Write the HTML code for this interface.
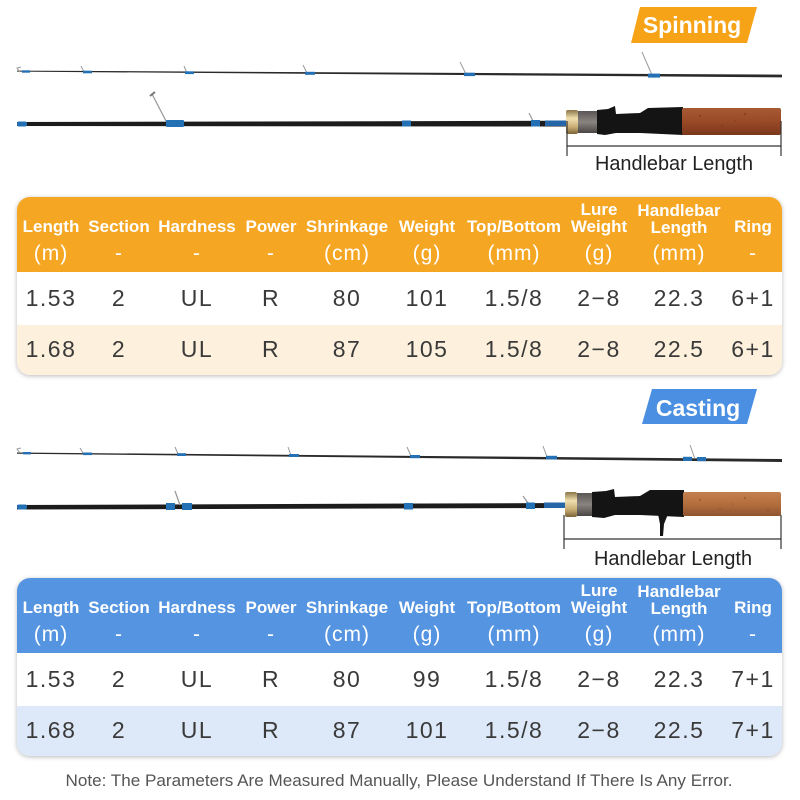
<!DOCTYPE html>
<html><head><meta charset="utf-8">
<style>
*{margin:0;padding:0;box-sizing:border-box}
html,body{width:800px;height:800px;background:#fff;overflow:hidden}
body{position:relative;font-family:"Liberation Sans",Arial,sans-serif}
svg.bg{position:absolute;left:0;top:0}
.tbl{position:absolute;left:17px;width:765px;height:178px;border-radius:13px;overflow:hidden;box-shadow:0 1px 5px rgba(0,0,0,.28)}
.hd{position:absolute;left:0;top:0;width:100%;height:75px}
.r1{position:absolute;left:0;top:75px;width:100%;height:53px;background:#fff}
.r2{position:absolute;left:0;top:128px;width:100%;height:50px}
.o .hd{background:#F5A623}.o .r2{background:#FDF0DC}
.b .hd{background:#5594E0}.b .r2{background:#DDE9F8}
.c{position:absolute;width:120px;margin-left:-60px;text-align:center;white-space:nowrap}
.h{color:#fff;font-weight:bold;font-size:17px;height:20px;line-height:20px}
.u{color:#fff;font-size:21px;height:26px;line-height:26px;letter-spacing:1px;top:44px}
.d{color:#3a3a3a;font-size:23px;height:30px;line-height:30px;letter-spacing:1.5px}
.y1{top:86px}.y2{top:137px}
</style></head><body>
<svg class="bg" width="800" height="800" viewBox="0 0 800 800">
<defs>
<linearGradient id="gold" x1="0" y1="0" x2="0" y2="1"><stop offset="0" stop-color="#8b7548"/><stop offset=".35" stop-color="#f0e0b0"/><stop offset=".7" stop-color="#c9ad74"/><stop offset="1" stop-color="#7a6438"/></linearGradient>
<linearGradient id="eng" x1="0" y1="0" x2="0" y2="1"><stop offset="0" stop-color="#5a5655"/><stop offset=".5" stop-color="#8a8480"/><stop offset="1" stop-color="#4a4645"/></linearGradient>
<linearGradient id="cork1" x1="0" y1="0" x2="0" y2="1"><stop offset="0" stop-color="#a65a33"/><stop offset=".5" stop-color="#9a4a26"/><stop offset="1" stop-color="#7a381b"/></linearGradient>
<linearGradient id="cork2" x1="0" y1="0" x2="0" y2="1"><stop offset="0" stop-color="#c3804e"/><stop offset=".5" stop-color="#b46e3e"/><stop offset="1" stop-color="#8f5530"/></linearGradient>
</defs>
<!-- Spinning badge -->
<polygon points="640,7 757,7 747,43 631,43" fill="#F6A317"/>
<text x="692" y="33" text-anchor="middle" font-family="Liberation Sans, Arial, sans-serif" font-weight="bold" font-size="23" fill="#fff">Spinning</text>

<!-- Spinning top rod -->
<polygon points="17,70.6 782,74.6 782,77.4 17,71.6" fill="#2a2a2a"/>
<g stroke="#9a9a9a" stroke-width="1" fill="none">
<path d="M20,72 L17,68 L21,67"/>
<path d="M84,72 L81,66"/>
<path d="M187,73 L184,66"/>
<path d="M307,73 L303,65"/>
<path d="M466,74 L460,62"/>
<path d="M652,75 L642,52"/>
</g>
<g fill="#2470b5">
<rect x="22" y="70.3" width="8" height="2.4"/>
<rect x="83" y="70.7" width="9" height="2.6"/>
<rect x="185" y="71.3" width="9" height="2.8"/>
<rect x="305" y="71.8" width="10" height="3"/>
<rect x="464" y="72.7" width="11" height="3.4"/>
<rect x="648" y="73.6" width="12" height="4"/>
</g>

<!-- Spinning second rod -->
<polygon points="17,122 568,120.8 568,126.5 17,126" fill="#1c1c1c"/>
<rect x="17" y="121.5" width="10" height="5" rx="2" fill="#2470b5"/>
<path d="M166,121 L152,94" stroke="#9a9a9a" stroke-width="1.3" fill="none"/>
<path d="M150,96 L155,92" stroke="#777" stroke-width="2"/>
<rect x="166" y="120" width="18" height="7" rx="1" fill="#2470b5"/>
<rect x="402" y="120.5" width="9" height="6" fill="#2470b5"/>
<path d="M533,121 L529,113" stroke="#9a9a9a" stroke-width="1.2"/>
<rect x="531" y="120" width="9" height="6.5" fill="#2470b5"/>
<rect x="545" y="120.5" width="21" height="5.5" fill="#2466a8"/>

<!-- Spinning handle -->
<rect x="566" y="110" width="12" height="24" rx="2" fill="url(#gold)"/>
<rect x="578" y="111" width="20" height="22" fill="url(#eng)"/>
<path d="M597,110 L608,109 L615,106 L616,114 L640,113 L648,108 L683,107 L683,135 L640,133 L616,133 L605,135 L597,134 Z" fill="#141414"/>
<rect x="682" y="108" width="99" height="27" rx="2" fill="url(#cork1)"/>
<g fill="#6e2f14" opacity=".45">
<circle cx="700" cy="116" r="1.2"/><circle cx="722" cy="126" r="1"/><circle cx="745" cy="114" r="1.3"/><circle cx="768" cy="128" r="1"/><circle cx="735" cy="121" r="0.9"/>
</g>
<!-- Spinning bracket -->
<g stroke="#333" stroke-width="1.2">
<line x1="567" y1="121" x2="567" y2="156"/>
<line x1="781" y1="121" x2="781" y2="156"/>
<line x1="567" y1="146" x2="781" y2="146"/>
</g>
<text x="674" y="170" text-anchor="middle" font-family="Liberation Sans, Arial, sans-serif" font-size="20" fill="#222" textLength="158" lengthAdjust="spacingAndGlyphs">Handlebar Length</text>

<!-- Casting badge -->
<polygon points="652,389 757,389 747,424 642,424" fill="#4A8FE2"/>
<text x="698" y="416" text-anchor="middle" font-family="Liberation Sans, Arial, sans-serif" font-weight="bold" font-size="23" fill="#fff">Casting</text>

<!-- Casting top rod -->
<polygon points="17,452.5 782,459 782,462 17,453.7" fill="#2a2a2a"/>
<g stroke="#9a9a9a" stroke-width="1" fill="none">
<path d="M20,453 L17,449 L21,448"/>
<path d="M83,453 L80,448"/>
<path d="M178,454 L175,447"/>
<path d="M291,455 L288,447"/>
<path d="M411,456 L407,447"/>
<path d="M547,457 L543,446"/>
<path d="M695,459 L690,445"/>
</g>
<g fill="#2470b5">
<rect x="23" y="452" width="8" height="2.4"/>
<rect x="83" y="452.5" width="9" height="2.6"/>
<rect x="177" y="453.2" width="9" height="2.8"/>
<rect x="289" y="454" width="10" height="3"/>
<rect x="410" y="455" width="10" height="3.2"/>
<rect x="546" y="455.8" width="11" height="3.6"/>
<rect x="683" y="456.8" width="9" height="4.2"/>
<rect x="697" y="457" width="9" height="4.2"/>
</g>

<!-- Casting second rod -->
<polygon points="17,505 565,503 565,508 17,509.5" fill="#1c1c1c"/>
<rect x="17" y="504.5" width="10" height="5" rx="2" fill="#2470b5"/>
<path d="M180,505 L175,491" stroke="#9a9a9a" stroke-width="1.3" fill="none"/>
<rect x="166" y="503" width="9" height="7" fill="#2470b5"/>
<rect x="182" y="503" width="10" height="7" fill="#2470b5"/>
<rect x="404" y="503" width="9" height="6.5" fill="#2470b5"/>
<path d="M528,503 L523,496" stroke="#9a9a9a" stroke-width="1.2"/>
<rect x="526" y="502.5" width="9" height="6.5" fill="#2470b5"/>
<rect x="544" y="502.5" width="21" height="5.5" fill="#2466a8"/>

<!-- Casting handle -->
<rect x="565" y="492" width="12" height="25" rx="2" fill="url(#gold)"/>
<rect x="577" y="493" width="16" height="23" fill="url(#eng)"/>
<path d="M592,492 L606,491 L614,489 L615,497 L640,496 L650,490 L684,490 L684,517 L640,515 L615,515 L604,518 L592,517 Z" fill="#141414"/>
<path d="M658,514 L668,514 L664,524 L663,536 L660,536 L660,524 Z" fill="#141414"/>
<rect x="683" y="492" width="98" height="24" rx="2" fill="url(#cork2)"/>
<g fill="#7a4220" opacity=".4">
<circle cx="700" cy="500" r="1.2"/><circle cx="720" cy="509" r="1"/><circle cx="745" cy="498" r="1.3"/><circle cx="768" cy="510" r="1"/><circle cx="733" cy="504" r="0.9"/>
</g>
<!-- Casting bracket -->
<g stroke="#333" stroke-width="1.2">
<line x1="564" y1="515" x2="564" y2="549"/>
<line x1="781" y1="515" x2="781" y2="549"/>
<line x1="564" y1="539" x2="781" y2="539"/>
</g>
<text x="673" y="565" text-anchor="middle" font-family="Liberation Sans, Arial, sans-serif" font-size="20" fill="#222" textLength="158" lengthAdjust="spacingAndGlyphs">Handlebar Length</text>

<!-- Note -->
<text x="399" y="786" text-anchor="middle" font-family="Liberation Sans, Arial, sans-serif" font-size="17" fill="#555" textLength="667" lengthAdjust="spacingAndGlyphs">Note: The Parameters Are Measured Manually, Please Understand If There Is Any Error.</text>
</svg>

<!-- Spinning table -->
<div class="tbl o" style="top:197px">
<div class="hd"></div><div class="r1"></div><div class="r2"></div>
<div class="c h" style="left:34px;top:20px">Length</div>
<div class="c h" style="left:102px;top:20px">Section</div>
<div class="c h" style="left:180px;top:20px">Hardness</div>
<div class="c h" style="left:254px;top:20px">Power</div>
<div class="c h" style="left:330px;top:20px">Shrinkage</div>
<div class="c h" style="left:410px;top:20px">Weight</div>
<div class="c h" style="left:497px;top:20px">Top/Bottom</div>
<div class="c h" style="left:582px;top:3px">Lure</div>
<div class="c h" style="left:582px;top:20px">Weight</div>
<div class="c h" style="left:662px;top:4px">Handlebar</div>
<div class="c h" style="left:662px;top:21px">Length</div>
<div class="c h" style="left:736px;top:20px">Ring</div>
<div class="c u" style="left:34px">(m)</div>
<div class="c u" style="left:102px">-</div>
<div class="c u" style="left:180px">-</div>
<div class="c u" style="left:254px">-</div>
<div class="c u" style="left:330px">(cm)</div>
<div class="c u" style="left:410px">(g)</div>
<div class="c u" style="left:497px">(mm)</div>
<div class="c u" style="left:582px">(g)</div>
<div class="c u" style="left:662px">(mm)</div>
<div class="c u" style="left:736px">-</div>
<div class="c d y1" style="left:34px">1.53</div>
<div class="c d y1" style="left:102px">2</div>
<div class="c d y1" style="left:180px">UL</div>
<div class="c d y1" style="left:254px">R</div>
<div class="c d y1" style="left:330px">80</div>
<div class="c d y1" style="left:410px">101</div>
<div class="c d y1" style="left:497px">1.5/8</div>
<div class="c d y1" style="left:582px">2−8</div>
<div class="c d y1" style="left:662px">22.3</div>
<div class="c d y1" style="left:736px">6+1</div>
<div class="c d y2" style="left:34px">1.68</div>
<div class="c d y2" style="left:102px">2</div>
<div class="c d y2" style="left:180px">UL</div>
<div class="c d y2" style="left:254px">R</div>
<div class="c d y2" style="left:330px">87</div>
<div class="c d y2" style="left:410px">105</div>
<div class="c d y2" style="left:497px">1.5/8</div>
<div class="c d y2" style="left:582px">2−8</div>
<div class="c d y2" style="left:662px">22.5</div>
<div class="c d y2" style="left:736px">6+1</div>
</div>

<!-- Casting table -->
<div class="tbl b" style="top:578px">
<div class="hd"></div><div class="r1"></div><div class="r2"></div>
<div class="c h" style="left:34px;top:20px">Length</div>
<div class="c h" style="left:102px;top:20px">Section</div>
<div class="c h" style="left:180px;top:20px">Hardness</div>
<div class="c h" style="left:254px;top:20px">Power</div>
<div class="c h" style="left:330px;top:20px">Shrinkage</div>
<div class="c h" style="left:410px;top:20px">Weight</div>
<div class="c h" style="left:497px;top:20px">Top/Bottom</div>
<div class="c h" style="left:582px;top:3px">Lure</div>
<div class="c h" style="left:582px;top:20px">Weight</div>
<div class="c h" style="left:662px;top:4px">Handlebar</div>
<div class="c h" style="left:662px;top:21px">Length</div>
<div class="c h" style="left:736px;top:20px">Ring</div>
<div class="c u" style="left:34px">(m)</div>
<div class="c u" style="left:102px">-</div>
<div class="c u" style="left:180px">-</div>
<div class="c u" style="left:254px">-</div>
<div class="c u" style="left:330px">(cm)</div>
<div class="c u" style="left:410px">(g)</div>
<div class="c u" style="left:497px">(mm)</div>
<div class="c u" style="left:582px">(g)</div>
<div class="c u" style="left:662px">(mm)</div>
<div class="c u" style="left:736px">-</div>
<div class="c d y1" style="left:34px">1.53</div>
<div class="c d y1" style="left:102px">2</div>
<div class="c d y1" style="left:180px">UL</div>
<div class="c d y1" style="left:254px">R</div>
<div class="c d y1" style="left:330px">80</div>
<div class="c d y1" style="left:410px">99</div>
<div class="c d y1" style="left:497px">1.5/8</div>
<div class="c d y1" style="left:582px">2−8</div>
<div class="c d y1" style="left:662px">22.3</div>
<div class="c d y1" style="left:736px">7+1</div>
<div class="c d y2" style="left:34px">1.68</div>
<div class="c d y2" style="left:102px">2</div>
<div class="c d y2" style="left:180px">UL</div>
<div class="c d y2" style="left:254px">R</div>
<div class="c d y2" style="left:330px">87</div>
<div class="c d y2" style="left:410px">101</div>
<div class="c d y2" style="left:497px">1.5/8</div>
<div class="c d y2" style="left:582px">2−8</div>
<div class="c d y2" style="left:662px">22.5</div>
<div class="c d y2" style="left:736px">7+1</div>
</div>
</body></html>
